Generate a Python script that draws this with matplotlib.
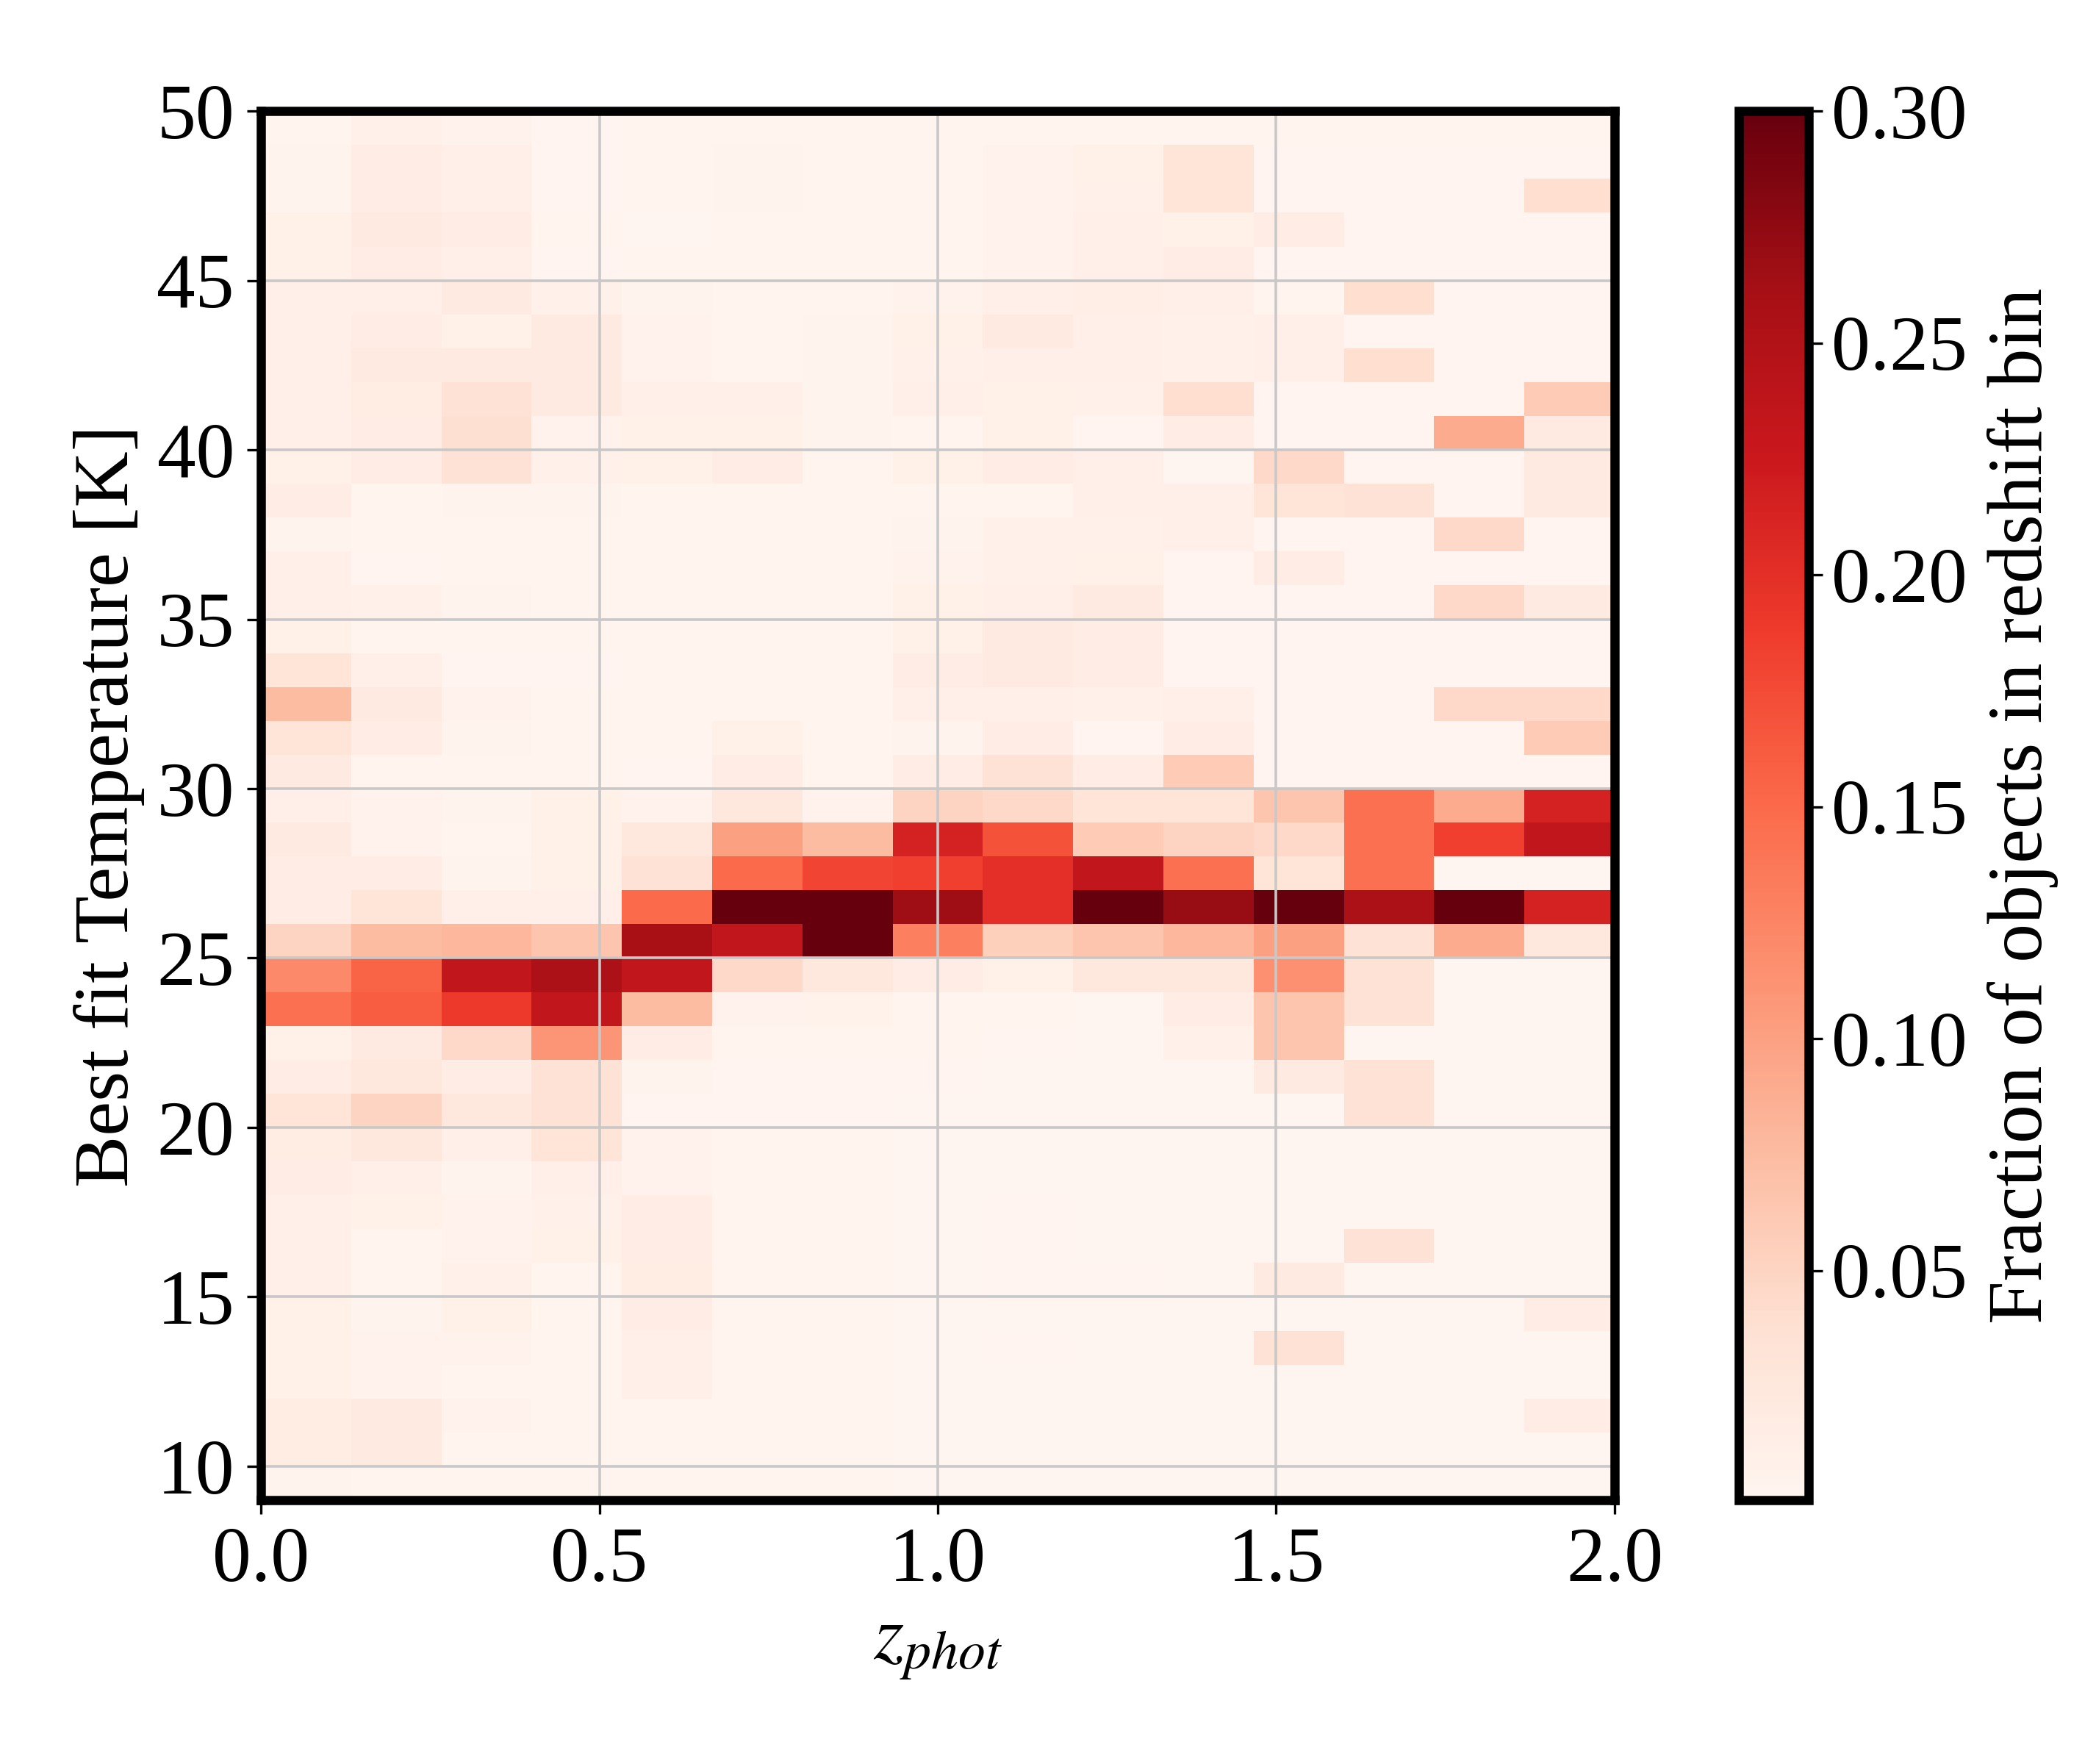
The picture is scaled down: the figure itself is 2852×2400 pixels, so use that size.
import numpy as np
import matplotlib
matplotlib.use("Agg")
import matplotlib.pyplot as plt

plt.rcParams["font.family"] = "serif"
plt.rcParams["font.serif"] = ["Liberation Serif", "DejaVu Serif"]
plt.rcParams["mathtext.fontset"] = "stix"

# bin edges
z_edges = np.linspace(0.0, 2.0, 16)
temp_edges = np.arange(9, 51)

# fraction of objects per redshift bin, rows from T=49-50 (top) down to T=9-10
fraction = [
    [0.003, 0.008, 0.006, 0.002, 0.003, 0.003, 0.003, 0.003, 0.004, 0.004, 0.003, 0.003, 0.003, 0.003, 0.003],
    [0.005, 0.015, 0.012, 0.002, 0.003, 0.005, 0.004, 0.003, 0.006, 0.010, 0.030, 0.002, 0.002, 0.002, 0.002],
    [0.005, 0.015, 0.012, 0.002, 0.003, 0.005, 0.004, 0.003, 0.006, 0.008, 0.030, 0.002, 0.002, 0.002, 0.040],
    [0.010, 0.020, 0.015, 0.003, 0.001, 0.004, 0.004, 0.003, 0.006, 0.012, 0.010, 0.015, 0.002, 0.002, 0.002],
    [0.010, 0.015, 0.012, 0.002, 0.004, 0.004, 0.004, 0.003, 0.006, 0.012, 0.015, 0.002, 0.002, 0.002, 0.002],
    [0.012, 0.012, 0.020, 0.008, 0.005, 0.003, 0.004, 0.006, 0.012, 0.014, 0.012, 0.003, 0.040, 0.002, 0.002],
    [0.012, 0.015, 0.010, 0.020, 0.006, 0.004, 0.005, 0.010, 0.020, 0.012, 0.008, 0.012, 0.002, 0.002, 0.002],
    [0.012, 0.020, 0.020, 0.020, 0.006, 0.004, 0.005, 0.008, 0.012, 0.012, 0.008, 0.012, 0.040, 0.002, 0.002],
    [0.012, 0.018, 0.035, 0.020, 0.012, 0.012, 0.005, 0.012, 0.010, 0.008, 0.040, 0.002, 0.002, 0.002, 0.060],
    [0.012, 0.015, 0.038, 0.006, 0.010, 0.010, 0.005, 0.003, 0.010, 0.002, 0.015, 0.002, 0.002, 0.090, 0.020],
    [0.010, 0.015, 0.035, 0.008, 0.010, 0.015, 0.004, 0.010, 0.015, 0.012, 0.001, 0.045, 0.002, 0.002, 0.020],
    [0.015, 0.004, 0.005, 0.005, 0.004, 0.003, 0.004, 0.004, 0.004, 0.012, 0.012, 0.030, 0.035, 0.002, 0.020],
    [0.005, 0.004, 0.003, 0.003, 0.003, 0.003, 0.004, 0.005, 0.008, 0.008, 0.012, 0.002, 0.002, 0.045, 0.002],
    [0.012, 0.002, 0.003, 0.003, 0.003, 0.003, 0.004, 0.006, 0.008, 0.010, 0.002, 0.015, 0.002, 0.002, 0.002],
    [0.012, 0.008, 0.005, 0.003, 0.003, 0.004, 0.004, 0.010, 0.012, 0.020, 0.002, 0.002, 0.002, 0.045, 0.020],
    [0.010, 0.004, 0.003, 0.003, 0.003, 0.003, 0.003, 0.010, 0.020, 0.015, 0.002, 0.002, 0.002, 0.002, 0.002],
    [0.030, 0.012, 0.002, 0.002, 0.003, 0.003, 0.003, 0.015, 0.020, 0.015, 0.002, 0.002, 0.002, 0.002, 0.002],
    [0.075, 0.020, 0.006, 0.004, 0.003, 0.003, 0.004, 0.012, 0.012, 0.008, 0.012, 0.002, 0.002, 0.045, 0.045],
    [0.030, 0.015, 0.005, 0.003, 0.003, 0.010, 0.004, 0.005, 0.015, 0.002, 0.015, 0.002, 0.002, 0.002, 0.060],
    [0.020, 0.003, 0.003, 0.003, 0.002, 0.015, 0.004, 0.015, 0.035, 0.015, 0.060, 0.002, 0.002, 0.002, 0.002],
    [0.012, 0.006, 0.005, 0.010, 0.006, 0.025, 0.006, 0.050, 0.045, 0.030, 0.030, 0.065, 0.145, 0.090, 0.215],
    [0.020, 0.006, 0.004, 0.010, 0.025, 0.100, 0.075, 0.215, 0.170, 0.060, 0.050, 0.045, 0.145, 0.185, 0.235],
    [0.015, 0.015, 0.005, 0.010, 0.035, 0.150, 0.180, 0.185, 0.200, 0.235, 0.145, 0.030, 0.145, 0.000, 0.000],
    [0.015, 0.030, 0.012, 0.012, 0.150, 0.330, 0.330, 0.265, 0.200, 0.330, 0.270, 0.330, 0.255, 0.330, 0.215],
    [0.050, 0.075, 0.080, 0.065, 0.260, 0.235, 0.330, 0.130, 0.055, 0.065, 0.080, 0.100, 0.035, 0.090, 0.025],
    [0.120, 0.155, 0.235, 0.255, 0.235, 0.045, 0.025, 0.015, 0.010, 0.025, 0.025, 0.115, 0.035, 0.000, 0.000],
    [0.145, 0.160, 0.190, 0.235, 0.075, 0.006, 0.007, 0.004, 0.004, 0.001, 0.015, 0.065, 0.035, 0.000, 0.000],
    [0.010, 0.020, 0.045, 0.110, 0.015, 0.003, 0.003, 0.003, 0.002, 0.001, 0.008, 0.065, 0.000, 0.000, 0.000],
    [0.015, 0.025, 0.015, 0.035, 0.005, 0.002, 0.002, 0.002, 0.001, 0.001, 0.001, 0.020, 0.035, 0.000, 0.000],
    [0.030, 0.050, 0.025, 0.035, 0.002, 0.002, 0.002, 0.001, 0.001, 0.001, 0.001, 0.001, 0.035, 0.000, 0.000],
    [0.018, 0.025, 0.012, 0.030, 0.006, 0.003, 0.003, 0.001, 0.001, 0.001, 0.001, 0.001, 0.001, 0.000, 0.000],
    [0.015, 0.012, 0.005, 0.012, 0.006, 0.003, 0.003, 0.001, 0.001, 0.001, 0.001, 0.001, 0.001, 0.000, 0.000],
    [0.012, 0.010, 0.006, 0.008, 0.015, 0.003, 0.003, 0.001, 0.002, 0.001, 0.001, 0.001, 0.001, 0.000, 0.000],
    [0.012, 0.004, 0.006, 0.010, 0.015, 0.003, 0.003, 0.001, 0.002, 0.001, 0.001, 0.001, 0.035, 0.000, 0.000],
    [0.012, 0.004, 0.008, 0.003, 0.018, 0.003, 0.003, 0.001, 0.002, 0.002, 0.001, 0.020, 0.001, 0.000, 0.000],
    [0.010, 0.005, 0.010, 0.003, 0.015, 0.003, 0.003, 0.001, 0.001, 0.001, 0.001, 0.001, 0.001, 0.000, 0.015],
    [0.010, 0.006, 0.006, 0.004, 0.012, 0.003, 0.003, 0.001, 0.002, 0.001, 0.001, 0.035, 0.001, 0.000, 0.000],
    [0.010, 0.006, 0.004, 0.004, 0.012, 0.003, 0.003, 0.001, 0.001, 0.001, 0.001, 0.001, 0.001, 0.000, 0.000],
    [0.018, 0.020, 0.006, 0.004, 0.004, 0.003, 0.003, 0.001, 0.001, 0.001, 0.001, 0.001, 0.001, 0.000, 0.015],
    [0.018, 0.020, 0.003, 0.003, 0.003, 0.003, 0.003, 0.001, 0.001, 0.001, 0.001, 0.001, 0.001, 0.000, 0.000],
    [0.005, 0.004, 0.003, 0.003, 0.004, 0.003, 0.003, 0.001, 0.001, 0.001, 0.001, 0.001, 0.001, 0.000, 0.000],
]

x_ticks = [0.0, 0.5, 1.0, 1.5, 2.0]
y_ticks = [10, 15, 20, 25, 30, 35, 40, 45, 50]
cbar_ticks = [0.05, 0.10, 0.15, 0.20, 0.25, 0.30]

fs = 38
fig = plt.figure(figsize=(14.26, 12), dpi=200)
ax = fig.add_axes([0.1245, 0.1496, 0.6458, 0.7874])
cax = fig.add_axes([0.8296, 0.1496, 0.0333, 0.7874])

# rows are stored top-down, pcolormesh wants bottom-up
frac = np.array(fraction)[::-1]
mesh = ax.pcolormesh(z_edges, temp_edges, frac, cmap="Reds", vmin=0.0005, vmax=0.30)

ax.set_xlim(0, 2.0)
ax.set_ylim(9, 50)
ax.set_xticks(x_ticks)
ax.set_yticks(y_ticks)
ax.set_xticklabels([f"{t:.1f}" for t in x_ticks])
ax.grid(True, color="#c8c8c8", linewidth=1.3)
ax.tick_params(labelsize=fs, length=7, width=1.2, pad=6)
for sp in ax.spines.values():
    sp.set_linewidth(4.5)

ax.set_xlabel(r"$z_{phot}$", fontsize=fs, labelpad=6)
ax.set_ylabel("Best fit Temperature [K]", fontsize=fs, labelpad=6)

cb = fig.colorbar(mesh, cax=cax)
cb.set_ticks(cbar_ticks)
cb.set_ticklabels([f"{t:.2f}" for t in cbar_ticks])
cb.ax.tick_params(labelsize=fs, length=7, width=1.2, pad=4)
cb.outline.set_linewidth(4.5)
cb.set_label("Fraction of objects in redshift bin", fontsize=fs, labelpad=10)

fig.savefig("out.png", dpi=200)
